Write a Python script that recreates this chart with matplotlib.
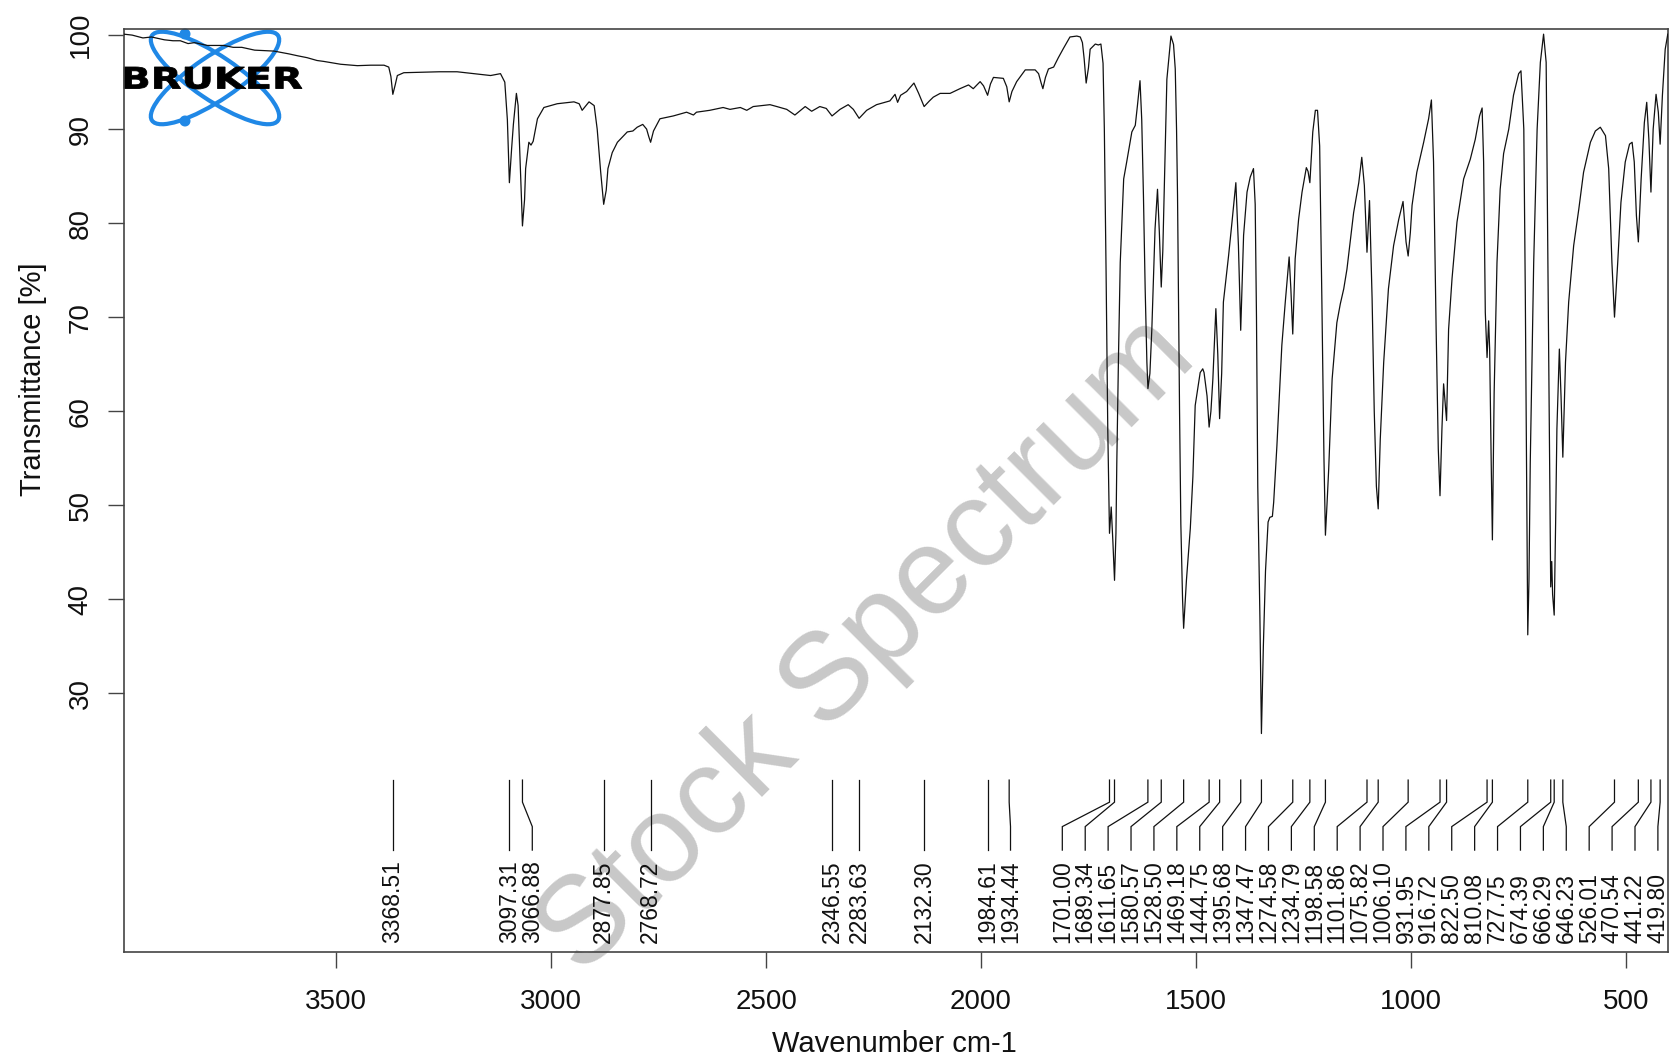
import matplotlib
matplotlib.use("Agg")
import matplotlib.pyplot as plt
from matplotlib.patches import Ellipse, Circle, PathPatch
from matplotlib.textpath import TextPath
from matplotlib.font_manager import FontProperties
from matplotlib.transforms import Affine2D

plt.rcParams['font.family'] = ['Liberation Sans', 'DejaVu Sans']

# ---------------- data ----------------
spec = [
    (3994, 100.1), (3975, 100.0), (3950, 99.7), (3930, 99.8), (3900, 99.5), (3880, 99.4),
    (3863, 99.4), (3845, 99.1), (3830, 99.2), (3800, 98.9), (3762, 98.9), (3740, 98.7),
    (3720, 98.7), (3690, 98.4), (3645, 98.3), (3610, 98.0), (3590, 97.8), (3568, 97.6),
    (3545, 97.3), (3529, 97.2), (3490, 96.9), (3451, 96.75), (3420, 96.8), (3389, 96.8),
    (3378, 96.6), (3373, 95.6), (3368.5, 93.7), (3363, 94.7), (3358, 95.7), (3343, 96.0),
    (3300, 96.05), (3260, 96.1), (3219, 96.1), (3180, 95.9), (3141, 95.7), (3118, 95.9),
    (3108, 95.0), (3102, 91.0), (3097.3, 84.3), (3092, 88.0), (3088, 90.5), (3081, 93.8),
    (3077, 92.5), (3071, 85.0), (3066.9, 79.7), (3062, 82.5), (3059.5, 85.8), (3052, 88.6),
    (3047, 88.3), (3042, 88.7), (3032, 91.1), (3017, 92.3), (2986, 92.7), (2947, 92.9),
    (2935, 92.7), (2928, 92.0), (2912, 92.9), (2900, 92.5), (2893, 90.0), (2885, 85.5),
    (2877.9, 82.0), (2872, 83.5), (2868, 85.8), (2858, 87.5), (2846, 88.6), (2823, 89.7),
    (2810, 89.8), (2800, 90.2), (2787, 90.5), (2778, 90.0), (2773, 89.2), (2768.7, 88.6),
    (2762, 89.8), (2747, 91.1), (2716, 91.4), (2685, 91.8), (2669, 91.5), (2662, 91.8),
    (2631, 92.0), (2600, 92.3), (2584, 92.1), (2560, 92.3), (2545, 92.0), (2530, 92.4),
    (2491, 92.6), (2475, 92.4), (2452, 92.1), (2433, 91.5), (2409, 92.4), (2394, 91.9),
    (2375, 92.4), (2360, 92.2), (2346.6, 91.4), (2328, 92.1), (2309, 92.6), (2297, 92.1),
    (2283.6, 91.15), (2266, 92.0), (2243, 92.6), (2212, 93.0), (2200, 93.7), (2194, 92.85),
    (2187, 93.6), (2173, 94.0), (2156, 94.9), (2145, 93.8), (2132.3, 92.4), (2120, 93.0),
    (2111, 93.4), (2095, 93.8), (2072, 93.8), (2049, 94.3), (2029, 94.7), (2018, 94.3),
    (2002, 95.05), (1994, 94.6), (1984.6, 93.6), (1978, 94.8), (1971, 95.5), (1948, 95.4),
    (1940, 94.5), (1934.4, 92.9), (1928, 94.0), (1917, 95.05), (1897, 96.3), (1874, 96.3),
    (1866, 95.9), (1860, 94.9), (1856, 94.3), (1850, 95.5), (1843, 96.4), (1831, 96.6),
    (1820, 97.6), (1808, 98.6), (1793, 99.8), (1777, 99.9), (1769, 99.8), (1764, 99.2),
    (1760, 97.5), (1755.3, 94.9), (1750, 96.5), (1746, 98.5), (1734, 99.05), (1727, 98.95),
    (1721, 99.05), (1716, 97.0), (1713, 90.0), (1709, 75.0), (1705, 58.0), (1701, 47.0),
    (1697, 49.8), (1693, 46.0), (1689.3, 42.0), (1686, 47.0), (1684, 54.5), (1680, 66.0),
    (1676, 75.8), (1668, 84.7), (1661, 86.5), (1649, 89.7), (1641, 90.4), (1636, 92.5),
    (1630, 95.15), (1626, 91.0), (1622, 82.9), (1618, 73.0), (1614, 65.2), (1611.6, 62.4),
    (1607, 64.0), (1602.5, 68.7), (1595, 79.4), (1589.3, 83.6), (1585, 79.0), (1580.6, 73.2),
    (1577, 77.0), (1574, 82.9), (1567.5, 95.3), (1558, 99.9), (1552, 99.0), (1548, 96.4),
    (1545, 90.0), (1542.7, 82.9), (1538, 60.0), (1535, 48.0), (1531, 40.0), (1528.5, 36.9),
    (1522, 42.0), (1513, 47.5), (1507, 53.0), (1501.6, 60.6), (1490, 64.1), (1484, 64.5),
    (1481, 64.1), (1474, 61.6), (1469.2, 58.3), (1465, 60.0), (1460.5, 63.4), (1453.5, 70.9),
    (1449, 66.0), (1444.8, 59.2), (1440, 64.0), (1436, 71.6), (1424, 76.5), (1416, 80.1),
    (1407, 84.3), (1401, 77.6), (1395.7, 68.6), (1389, 78.7), (1381, 83.3), (1373.5, 84.9),
    (1366, 85.8), (1362, 82.0), (1359, 70.0), (1356, 52.0), (1351, 38.0), (1347.5, 25.7),
    (1343, 35.0), (1338, 43.0), (1332, 48.2), (1328, 48.7), (1322, 48.8), (1319, 50.3),
    (1311.5, 56.3), (1300, 67.0), (1292, 71.6), (1283, 76.4), (1279, 73.0), (1274.6, 68.2),
    (1269, 76.2), (1261, 80.4), (1253, 83.3), (1243, 85.9), (1239, 85.5), (1234.8, 84.3),
    (1228, 89.7), (1222, 92.0), (1217, 92.0), (1212, 88.2), (1207, 72.3), (1202, 55.0),
    (1198.6, 46.8), (1195, 50.0), (1191, 53.8), (1183, 63.4), (1172, 69.4), (1164, 71.4),
    (1156, 73.0), (1148.5, 75.1), (1133, 81.1), (1121, 84.3), (1114, 87.0), (1108, 84.0),
    (1101.9, 76.9), (1096, 82.4), (1090, 72.0), (1085, 60.0), (1080, 52.0), (1075.8, 49.6),
    (1071, 57.0), (1063, 65.2), (1052, 73.0), (1040, 77.6), (1028, 80.4), (1018, 82.3),
    (1011, 78.0), (1006.1, 76.5), (1001, 79.0), (997, 81.9), (986, 85.4), (970, 88.6),
    (958.5, 91.1), (952, 93.1), (947, 86.5), (941, 68.7), (936, 56.0), (932, 51.0),
    (927.5, 58.1), (923.6, 62.9), (919.5, 60.5), (916.7, 59.0), (912, 68.7), (904, 74.1),
    (892.5, 80.1), (877, 84.7), (861.5, 86.8), (850, 88.9), (840, 91.4), (834, 92.25),
    (830.5, 86.5), (826.6, 70.5), (822.5, 65.7), (818.8, 69.6), (816.5, 66.6), (813, 55.0),
    (810.1, 46.3), (806, 62.0), (799.4, 75.8), (792, 83.6), (784, 87.4), (772, 90.0),
    (761, 93.6), (749, 95.9), (743.6, 96.2), (737, 90.0), (733.5, 72.3), (730, 50.0),
    (727.8, 36.2), (725, 42.0), (722, 54.5), (714, 75.8), (706, 90.0), (698.5, 97.1),
    (691, 100.1), (685, 97.1), (679, 65.2), (676, 50.0), (674.4, 41.3), (672, 44.0),
    (670, 40.5), (666.3, 38.3), (663, 48.0), (660, 58.1), (654.3, 66.6), (650.4, 61.6),
    (646.2, 55.1), (640, 65.2), (632.6, 71.6), (621, 77.6), (609, 81.5), (598, 85.4),
    (582, 88.6), (570.5, 89.8), (559, 90.2), (547, 89.3), (539.5, 85.8), (532, 75.8),
    (526, 70.0), (518.5, 75.8), (511, 82.2), (501, 86.5), (491, 88.4), (485, 88.6),
    (480, 86.5), (475, 80.8), (470.5, 78.0), (464, 84.7), (456.5, 90.7), (451, 92.85),
    (446, 88.9), (441.2, 83.3), (436, 90.0), (429.3, 93.7), (424, 91.8), (419.8, 88.4),
    (414.5, 93.6), (408, 98.5), (402, 100.1),
]
wavenumber = [p[0] for p in spec]
transmittance = [p[1] for p in spec]

peak_wavenumbers = [3368.51, 3097.31, 3066.88, 2877.85, 2768.72, 2346.55, 2283.63, 2132.30,
                    1984.61, 1934.44, 1701.00, 1689.34, 1611.65, 1580.57, 1528.50, 1469.18,
                    1444.75, 1395.68, 1347.47, 1274.58, 1234.79, 1198.58, 1101.86, 1075.82,
                    1006.10, 931.95, 916.72, 822.50, 810.08, 727.75, 674.39, 666.29, 646.23,
                    526.01, 470.54, 441.22, 419.80]

x_ticks = [3500, 3000, 2500, 2000, 1500, 1000, 500]
y_ticks = [30, 40, 50, 60, 70, 80, 90, 100]

# ---------------- figure ----------------
W, H, DPI = 1670, 1062, 100
fig = plt.figure(figsize=(W / DPI, H / DPI), dpi=DPI, facecolor='white')

# background layer (logo + watermark), pixel coordinates, y downwards
bg = fig.add_axes([0, 0, 1, 1], zorder=-5)
bg.set_xlim(0, W)
bg.set_ylim(H, 0)
bg.axis('off')

blue = '#2088e6'
for ang in (34, -34):
    bg.add_patch(Ellipse((215, 78), 152, 44, angle=ang, fill=False,
                         edgecolor=blue, lw=3.0))
for cx, cy in ((185, 34), (185, 121)):
    bg.add_patch(Circle((cx, cy), 4.8, color=blue))

tp = TextPath((0, 0), "BRUKER", size=1,
              prop=FontProperties(family='DejaVu Sans', weight='bold'))
bb = tp.get_extents()
tr = (Affine2D().translate(-bb.x0, -bb.y0)
      .scale(178 / bb.width, -22 / bb.height).translate(124, 89))
bg.add_patch(PathPatch(tr.transform_path(tp), facecolor='black', edgecolor='black', lw=0.6))

bg.text(868, 646, 'Stock Spectrum', rotation=45, ha='center', va='center',
        fontsize=89, color='#c8c8c8')

# main axes
ax = fig.add_axes([124 / W, 1 - 952 / H, (1668 - 124) / W, (952 - 29) / H])
ax.patch.set_visible(False)
ax.set_xlim(3994, 401.5)
ax.set_ylim(2.46, 100.65)

ax.plot(wavenumber, transmittance, color='#111111', lw=0.9, zorder=3)

# peak labels with simple spreading
d, lo = 53.3, 425.0
order = sorted(peak_wavenumbers, reverse=True)
pos = list(order)
for i in range(1, len(pos)):
    pos[i] = min(pos[i], pos[i - 1] - d)
pos[-1] = max(pos[-1], lo)
for i in range(len(pos) - 2, -1, -1):
    pos[i] = max(pos[i], pos[i + 1] + d)

for pk, lp in zip(order, pos):
    ax.plot([pk, pk, lp, lp], [20.75, 18.4, 15.8, 13.3], color='#111111', lw=0.9,
            solid_joinstyle='miter')
    ax.text(lp, 3.45, f"{pk:.2f}", rotation=90, ha='center', va='bottom',
            fontsize=16.5, color='#111111')

for s in ax.spines.values():
    s.set_color('#444444')
    s.set_linewidth(1.2)

ax.set_xticks(x_ticks)
ax.set_xticklabels([str(v) for v in x_ticks])
ax.set_yticks(y_ticks)
ax.set_yticklabels([str(v) for v in y_ticks], rotation=90, va='center')
ax.tick_params(axis='both', direction='out', length=11.3, width=1.0, color='#444444',
               labelsize=20, labelcolor='#111111')
ax.tick_params(axis='x', pad=15.5)
ax.tick_params(axis='y', pad=10.5)

fig.text(894 / W, 1 - 1044 / H, 'Wavenumber cm-1', ha='center', va='center',
         fontsize=21, color='#111111')
fig.text(33 / W, 1 - 379 / H, 'Transmittance [%]', rotation=90, ha='center',
         va='center', fontsize=21, color='#111111')

fig.savefig('out.png', dpi=DPI, facecolor='white')
